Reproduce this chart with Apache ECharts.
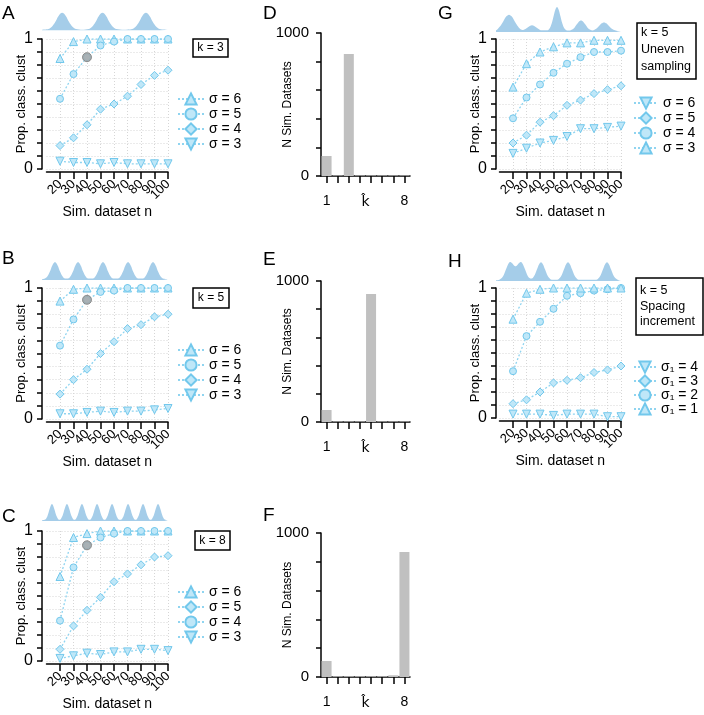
<!DOCTYPE html>
<html><head><meta charset="utf-8">
<script src="https://cdn.jsdelivr.net/npm/echarts@6/dist/echarts.min.js"></script>
<style>html,body{margin:0;padding:0;background:#fff}#c{width:704px;height:715px}</style>
</head><body><div id="c"></div>
<script>
const FONT = "'Liberation Sans', Arial, sans-serif";

// ---------- shared categories / ticks ----------
const nValues = [20, 30, 40, 50, 60, 70, 80, 90, 100];
const propTickLabels = [0, 1];
const kCats = ['1', '2', '3', '4', '5', '6', '7', '8'];
const kTickLabels = ['1', '8'];
const countTickLabels = [0, 1000];

// ---------- Panel A (k = 3) ----------
const aLegend = ['σ = 6', 'σ = 5', 'σ = 4', 'σ = 3'];
const aTriUp   = [0.85, 0.98, 1.00, 1.00, 1.00, 1.00, 1.00, 1.00, 1.00];
const aCircle  = [0.54, 0.73, 0.86, 0.95, 0.98, 1.00, 1.00, 1.00, 1.00];
const aDiamond = [0.18, 0.24, 0.34, 0.46, 0.50, 0.56, 0.65, 0.72, 0.76];
const aTriDown = [0.06, 0.05, 0.05, 0.04, 0.05, 0.04, 0.04, 0.04, 0.04];
const aHighlight = [40, 0.86];
const aDensity = [[0,0],[5,0.04],[8,0.19],[10.5,0.45],[13,0.79],[16,1],[19,0.79],[21.5,0.45],[24,0.19],[27,0.04],[32,0],
  [37,0.04],[40,0.19],[42.5,0.45],[45,0.79],[48,1],[51,0.79],[53.5,0.45],[56,0.19],[59,0.04],[65,0],
  [71.5,0.04],[74.5,0.19],[77,0.45],[79.5,0.79],[82.5,1],[85.5,0.79],[88,0.45],[90.5,0.19],[93.5,0.04],[100,0]];

// ---------- Panel B (k = 5) ----------
const bLegend = ['σ = 6', 'σ = 5', 'σ = 4', 'σ = 3'];
const bTriUp   = [0.90, 0.99, 1.00, 1.00, 1.00, 1.00, 1.00, 1.00, 1.00];
const bCircle  = [0.56, 0.76, 0.91, 0.97, 0.98, 1.00, 1.00, 1.00, 1.00];
const bDiamond = [0.19, 0.30, 0.38, 0.50, 0.59, 0.69, 0.72, 0.78, 0.80];
const bTriDown = [0.04, 0.04, 0.05, 0.06, 0.05, 0.06, 0.06, 0.07, 0.08];
const bHighlight = [40, 0.91];
const bDensity = [[0,0],[2.3,0.04],[4.5,0.19],[6.3,0.45],[8.1,0.79],[10.3,1],[12.5,0.79],[14.3,0.45],[16.1,0.19],[18.3,0.04],
  [20.6,0.04],[22.8,0.19],[24.6,0.45],[26.4,0.79],[28.6,1],[30.8,0.79],[32.6,0.45],[34.4,0.19],[36.6,0.04],
  [40.4,0.04],[42.6,0.19],[44.4,0.45],[46.2,0.79],[48.4,1],[50.6,0.79],[52.4,0.45],[54.2,0.19],[56.4,0.04],
  [60.3,0.04],[62.5,0.19],[64.3,0.45],[66.1,0.79],[68.3,1],[70.5,0.79],[72.3,0.45],[74.1,0.19],[76.3,0.04],
  [80.1,0.04],[82.3,0.19],[84.1,0.45],[85.9,0.79],[88.1,1],[90.3,0.79],[92.1,0.45],[93.9,0.19],[96.1,0.04],[100,0]];

// ---------- Panel C (k = 8) ----------
const cLegend = ['σ = 6', 'σ = 5', 'σ = 4', 'σ = 3'];
const cTriUp   = [0.65, 0.95, 0.98, 1.00, 1.00, 1.00, 1.00, 1.00, 1.00];
const cDiamond = [0.09, 0.27, 0.39, 0.49, 0.61, 0.67, 0.74, 0.80, 0.81];
const cCircle  = [0.31, 0.72, 0.89, 0.95, 0.98, 1.00, 1.00, 1.00, 1.00];
const cTriDown = [0.02, 0.04, 0.06, 0.05, 0.07, 0.07, 0.09, 0.09, 0.08];
const cHighlight = [40, 0.89];
const cDensity = [[0,0],[2.9,0.07],[4.4,0.28],[5.9,0.66],[6.9,0.9],[7.9,1],[8.9,0.9],[9.9,0.66],[11.4,0.28],[12.9,0.07],[13.85,0.03],
  [14.8,0.07],[16.3,0.28],[17.8,0.66],[18.8,0.9],[19.8,1],[20.8,0.9],[21.8,0.66],[23.3,0.28],[24.8,0.07],[25.75,0.03],
  [26.7,0.07],[28.2,0.28],[29.7,0.66],[30.7,0.9],[31.7,1],[32.7,0.9],[33.7,0.66],[35.2,0.28],[36.7,0.07],[37.7,0.03],
  [38.7,0.07],[40.2,0.28],[41.7,0.66],[42.7,0.9],[43.7,1],[44.7,0.9],[45.7,0.66],[47.2,0.28],[48.7,0.07],[49.65,0.03],
  [50.6,0.07],[52.1,0.28],[53.6,0.66],[54.6,0.9],[55.6,1],[56.6,0.9],[57.6,0.66],[59.1,0.28],[60.6,0.07],[61.95,0.03],
  [63.3,0.07],[64.8,0.28],[66.3,0.66],[67.3,0.9],[68.3,1],[69.3,0.9],[70.3,0.66],[71.8,0.28],[73.3,0.07],[74.25,0.03],
  [75.2,0.07],[76.7,0.28],[78.2,0.66],[79.2,0.9],[80.2,1],[81.2,0.9],[82.2,0.66],[83.7,0.28],[85.2,0.07],[86.15,0.03],
  [87.1,0.07],[88.6,0.28],[90.1,0.66],[91.1,0.9],[92.1,1],[93.1,0.9],[94.1,0.66],[95.6,0.28],[97.1,0.07],[100,0]];

// ---------- Panels D, E, F (k-hat histograms) ----------
const dCounts = [140, 4, 853, 4, 4, 4, 4, 4];
const eCounts = [85, 4, 4, 4, 908, 4, 4, 4];
const fCounts = [111, 5, 5, 5, 5, 5, 12, 868];

// ---------- Panel G (k = 5, uneven sampling) ----------
const gLegend = ['σ = 6', 'σ = 5', 'σ = 4', 'σ = 3'];
const gTriDown = [0.12, 0.16, 0.20, 0.22, 0.25, 0.31, 0.31, 0.32, 0.33];
const gDiamond = [0.20, 0.26, 0.36, 0.41, 0.49, 0.53, 0.58, 0.61, 0.64];
const gCircle  = [0.39, 0.55, 0.65, 0.74, 0.81, 0.86, 0.90, 0.90, 0.91];
const gTriUp   = [0.63, 0.81, 0.90, 0.94, 0.97, 0.97, 0.99, 0.99, 0.99];
const gDensity = [[0,0.03],[1.4,0.09],[3.65,0.22],[5.9,0.41],[8.15,0.6],[10.4,0.68],[12.65,0.6],[14.9,0.41],[17.15,0.22],[19.4,0.09],
  [21.8,0.04],[23.55,0.08],[25.3,0.15],[27.05,0.21],[28.8,0.24],[30.55,0.21],[32.3,0.15],[34.05,0.08],[35.8,0.03],
  [41.3,0.03],[43.2,0.135],[44.6,0.32],[46,0.61],[47.4,0.88],[48.8,1],[50.2,0.88],[51.6,0.61],[53,0.32],[54.4,0.135],[56.3,0.03],
  [58.5,0.02],[61,0.06],[62.75,0.14],[64.5,0.27],[66.25,0.39],[68,0.44],[69.75,0.39],[71.5,0.27],[73.25,0.14],[75,0.06],[77.2,0.02],
  [78.8,0.05],[80.7,0.115],[82.6,0.22],[84.5,0.32],[86.4,0.36],[88.3,0.32],[90.2,0.22],[92.1,0.115],[94,0.05],[96.4,0.01],[100,0]];

// ---------- Panel H (k = 5, spacing increment) ----------
const hLegend = ['σ₁ = 4', 'σ₁ = 3', 'σ₁ = 2', 'σ₁ = 1'];
const hTriDown = [0.03, 0.03, 0.03, 0.02, 0.03, 0.03, 0.03, 0.01, 0.01];
const hDiamond = [0.11, 0.14, 0.20, 0.27, 0.29, 0.31, 0.35, 0.37, 0.40];
const hCircle  = [0.36, 0.63, 0.74, 0.84, 0.94, 0.96, 0.98, 0.99, 1.00];
const hTriUp   = [0.76, 0.96, 0.99, 1.00, 1.00, 1.00, 1.00, 1.00, 1.00];
const hDensity = [[0,0],[2.7,0.03],[4.8,0.135],[6.4,0.32],[8,0.61],[9.6,0.885],[11.2,1.02],[12.8,0.96],[14.4,0.83],[15.6,0.78],
  [16.8,0.83],[18.4,0.96],[20,1.02],[21.6,0.88],[23.2,0.61],[24.8,0.32],[26.4,0.146],[28.5,0.094],[29.6,0.146],
  [31.2,0.32],[32.8,0.61],[34.4,0.88],[36,1],[37.6,0.88],[39.2,0.61],[40.8,0.32],[42.4,0.135],[44.5,0.03],
  [49.1,0.03],[51.2,0.135],[52.8,0.32],[54.4,0.61],[56,0.88],[57.6,1],[59.2,0.88],[60.8,0.61],[62.4,0.32],[64,0.135],[66.1,0.03],
  [80.3,0.03],[82.4,0.135],[84,0.32],[85.6,0.61],[87.2,0.88],[88.8,1],[90.4,0.88],[92,0.61],[93.6,0.32],[95.2,0.135],[97.3,0.03],[100,0]];

// ---------- styling ----------
const SYM = {
  up: 'triangle', circle: 'circle', diamond: 'diamond',
  down: 'path://M0,0L10,0L5,9Z'
};
const SYM_SIZE = {up: 8, circle: 7, diamond: 8, down: 8};
const MARK_FILL = '#bfe7f8', MARK_EDGE = '#72c8ec', LINE_COL = '#8fd4f0';
const DENS_COL = '#a5cde9', GRID_COL = '#d6d6d6', BAR_COL = '#c0c0c0';
const AX = {color: '#000', width: 1.5};

// x axis categories: a blank leading slot (left margin of the plot) followed by the n values
const nCats = [''].concat(nValues.map(String));
const notBlank = (i, v) => v !== '';

const option = {
  animation: false, backgroundColor: '#fff',
  grid: [], xAxis: [], yAxis: [], series: [], legend: [], graphic: []
};

function addScatterPanel(key, legendNames, seriesDefs, highlight, density, densMax, L) {
  const gi = option.grid.length;
  option.grid.push({left: L.plot[0], top: L.plot[1], width: L.plot[2], height: L.plot[3], outerBoundsMode: 'none'});
  option.grid.push({left: L.dens[0], top: L.dens[1], width: L.dens[2], height: L.dens[3], outerBoundsMode: 'none'});
  option.xAxis.push({
    gridIndex: gi, type: 'category', data: nCats, boundaryGap: false, offset: 3,
    axisLine: {show: true, onZero: false, lineStyle: AX},
    axisTick: {show: true, interval: notBlank, length: 7, lineStyle: AX},
    axisLabel: {show: true, interval: 0, rotate: 45, fontSize: 13, color: '#000', margin: 10, fontFamily: FONT},
    splitLine: {show: true, interval: notBlank, lineStyle: {color: GRID_COL, type: [1, 2], width: 1}},
    name: 'Sim. dataset n', nameLocation: 'middle', nameGap: 33, nameMoveOverlap: false,
    nameTextStyle: {fontSize: 14, color: '#000', fontFamily: FONT}
  });
  option.yAxis.push({
    gridIndex: gi, type: 'value', min: 0, max: 1, interval: 0.1, offset: L.yOffset,
    axisLine: {show: true, onZero: false, lineStyle: AX},
    axisTick: {show: true, length: 5, lineStyle: AX},
    axisLabel: {fontSize: 16, color: '#000', margin: 9, fontFamily: FONT,
      formatter: v => { const t = propTickLabels.find(t => Math.abs(t - v) < 1e-6); return t === undefined ? '' : String(t); }},
    splitLine: {show: true, lineStyle: {color: GRID_COL, type: [1, 2], width: 1}},
    name: 'Prop. class. clust', nameLocation: 'middle', nameGap: 14, nameMoveOverlap: false,
    nameTextStyle: {fontSize: 13, color: '#000', fontFamily: FONT}
  });
  option.xAxis.push({gridIndex: gi + 1, type: 'value', min: 0, max: 100, show: false});
  option.yAxis.push({gridIndex: gi + 1, type: 'value', min: -0.04, max: densMax, show: false});

  const names = [];
  seriesDefs.forEach((s, i) => {
    const nm = key + '|' + legendNames[i];
    names.push(nm);
    option.series.push({
      type: 'line', name: nm, xAxisIndex: gi, yAxisIndex: gi,
      data: nValues.map((n, j) => [String(n), s.vals[j]]),
      symbol: SYM[s.sym], symbolSize: SYM_SIZE[s.sym], showSymbol: true,
      itemStyle: {color: MARK_FILL, borderColor: MARK_EDGE, borderWidth: 1},
      lineStyle: {color: LINE_COL, width: 1.3, type: [2, 2]}, z: 3
    });
  });
  if (highlight) {
    option.series.push({
      type: 'scatter', xAxisIndex: gi, yAxisIndex: gi, data: [[String(highlight[0]), highlight[1]]], symbolSize: 9,
      itemStyle: {color: '#a4a4a4', borderColor: '#7a7a7a', borderWidth: 1}, z: 6
    });
  }
  option.series.push({
    type: 'line', xAxisIndex: gi + 1, yAxisIndex: gi + 1, data: density, symbol: 'none', smooth: 0.3,
    lineStyle: {width: 0}, areaStyle: {color: DENS_COL, opacity: 1, origin: 'start'}, silent: true
  });
  option.legend.push({
    orient: 'vertical', left: L.legend[0], top: L.legend[1], padding: 0,
    itemWidth: L.legendW, itemHeight: 14, itemGap: L.legendGap, data: names, selectedMode: false,
    formatter: n => n.split('|')[1],
    textStyle: {fontSize: 14, color: '#000', fontFamily: FONT}
  });
}

function addBarPanel(counts, L) {
  const gi = option.grid.length;
  option.grid.push({left: 321, top: L.top, width: 89, height: L.height, outerBoundsMode: 'none'});
  option.xAxis.push({
    gridIndex: gi, type: 'category', data: kCats,
    axisLine: {show: true, onZero: false, lineStyle: AX},
    axisTick: {show: true, alignWithLabel: true, interval: 0, length: 7, lineStyle: AX},
    axisLabel: {interval: 0, fontSize: 14, color: '#000', margin: 18, fontFamily: FONT,
      formatter: v => kTickLabels.includes(v) ? v : ''},
    name: 'k\u0302', nameLocation: 'middle', nameGap: 19, nameMoveOverlap: false,
    nameTextStyle: {fontSize: 14, color: '#000', fontFamily: "'DejaVu Sans', sans-serif"}
  });
  option.yAxis.push({
    gridIndex: gi, type: 'value', min: 0, max: 1000, interval: 200,
    axisLine: {show: true, lineStyle: AX},
    axisTick: {show: true, length: 5, lineStyle: AX},
    splitLine: {show: false},
    axisLabel: {fontSize: 15, color: '#000', margin: 12, fontFamily: FONT,
      formatter: v => countTickLabels.includes(v) ? String(v) : ''},
    name: 'N Sim. Datasets', nameLocation: 'middle', nameGap: 27, nameMoveOverlap: false,
    nameTextStyle: {fontSize: 12, color: '#000', fontFamily: FONT}
  });
  option.series.push({
    type: 'bar', xAxisIndex: gi, yAxisIndex: gi, data: counts, barCategoryGap: '10%',
    itemStyle: {color: BAR_COL}
  });
}

// left column: y axis line at x=42, first (blank) slot at x=46.5, 100 at x=168
// right column: y axis line at x=496, first (blank) slot at x=499.5, 100 at x=621
addScatterPanel('A', aLegend,
  [{sym: 'up', vals: aTriUp}, {sym: 'circle', vals: aCircle}, {sym: 'diamond', vals: aDiamond}, {sym: 'down', vals: aTriDown}],
  aHighlight, aDensity, 1,
  {plot: [46.5, 39, 121.5, 130], yOffset: 4.5, dens: [42, 12.5, 126, 18], legend: [177, 92], legendW: 26, legendGap: 1});
addScatterPanel('B', bLegend,
  [{sym: 'up', vals: bTriUp}, {sym: 'circle', vals: bCircle}, {sym: 'diamond', vals: bDiamond}, {sym: 'down', vals: bTriDown}],
  bHighlight, bDensity, 1,
  {plot: [46.5, 288, 121.5, 131], yOffset: 4.5, dens: [42, 262, 126, 18], legend: [177, 343], legendW: 26, legendGap: 1});
addScatterPanel('C', cLegend,
  [{sym: 'up', vals: cTriUp}, {sym: 'diamond', vals: cDiamond}, {sym: 'circle', vals: cCircle}, {sym: 'down', vals: cTriDown}],
  cHighlight, cDensity, 1,
  {plot: [46.5, 531, 121.5, 130], yOffset: 4.5, dens: [42, 504, 126, 17], legend: [177, 585], legendW: 26, legendGap: 1});
addScatterPanel('G', gLegend,
  [{sym: 'down', vals: gTriDown}, {sym: 'diamond', vals: gDiamond}, {sym: 'circle', vals: gCircle}, {sym: 'up', vals: gTriUp}],
  null, gDensity, 1,
  {plot: [499.5, 39, 121.5, 130], yOffset: 3.5, dens: [496, 7, 125, 25], legend: [633, 96], legendW: 24, legendGap: 1});
addScatterPanel('H', hLegend,
  [{sym: 'down', vals: hTriDown}, {sym: 'diamond', vals: hDiamond}, {sym: 'circle', vals: hCircle}, {sym: 'up', vals: hTriUp}],
  null, hDensity, 1.02,
  {plot: [499.5, 288, 121.5, 130], yOffset: 3.5, dens: [496, 262, 125, 19], legend: [633, 360], legendW: 22, legendGap: 0});
addBarPanel(dCounts, {top: 33, height: 143});
addBarPanel(eCounts, {top: 281, height: 141});
addBarPanel(fCounts, {top: 533, height: 144});

// panel letters
[['A', 2, 14], ['B', 2, 259], ['C', 2, 517], ['D', 263, 14], ['E', 263, 260], ['F', 263, 516], ['G', 438, 14], ['H', 448, 262]]
  .forEach(([t, x, y]) => option.graphic.push({
    type: 'text', x: x, y: y, style: {text: t, font: '19px ' + FONT, fill: '#000', verticalAlign: 'middle'}
  }));

// annotation boxes
function box(x, y, w, h, text, multi, tx, ty, lh) {
  option.graphic.push({type: 'rect', shape: {x: x, y: y, width: w, height: h},
    style: {fill: '#fff', stroke: '#000', lineWidth: 1.5}, z: 10});
  if (multi) {
    option.graphic.push({type: 'text', x: tx, y: ty, z: 11,
      style: {text: text, font: '12.5px ' + FONT, fill: '#000', align: 'left', verticalAlign: 'top', lineHeight: lh}});
  } else {
    option.graphic.push({type: 'text', x: x + w / 2, y: y + h / 2, z: 11,
      style: {text: text, font: '12px ' + FONT, fill: '#000', align: 'center', verticalAlign: 'middle'}});
  }
}
box(193, 39, 35, 18, 'k = 3');
box(193, 288, 36, 20, 'k = 5');
box(195, 531, 35, 19, 'k = 8');
box(637, 23, 59, 56, 'k = 5\nUneven\nsampling', true, 641, 24.5, 17);
box(636, 278, 67, 57, 'k = 5\nSpacing\nincrement', true, 640, 283, 15.5);

const chart = echarts.init(document.getElementById('c'), null, {renderer: 'canvas'});
chart.setOption(option);
</script></body></html>
